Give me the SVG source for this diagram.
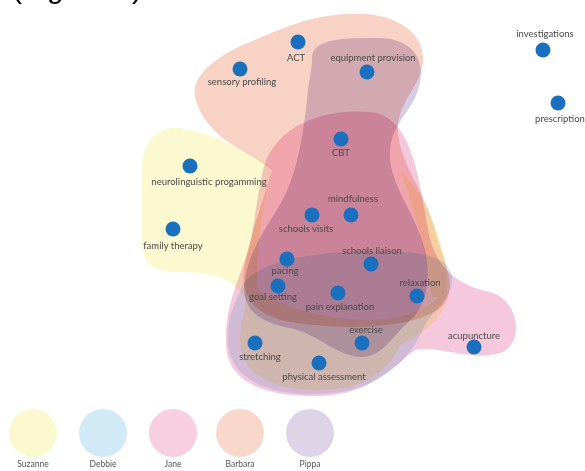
<svg xmlns="http://www.w3.org/2000/svg" width="585" height="471" viewBox="0 0 585 471">
<style>
.blob{mix-blend-mode:multiply}
.dot{fill:#1a6fbe}
.lbl{font-family:Lato,"Open Sans","Liberation Sans",sans-serif;font-size:9.5px;fill:#4a4a4a;text-anchor:middle}
.leg{font-family:Lato,"Open Sans","Liberation Sans",sans-serif;font-size:8.5px;fill:#555;text-anchor:middle}
.sz{fill:#fcf9d0}.db{fill:#d2eaf6}.jn{fill:#f8cee1}.bb{fill:#f9d8cc}.pp{fill:#ded4e8}
#blob-jane{fill:#f6c8dd}#blob-pippa{fill:#d8cbe5}#blob-barbara{fill:#f8d3c5}
</style>
<rect width="585" height="471" fill="#fff"/>
<text x="12" y="-2" font-family="Liberation Sans, Arial, sans-serif" font-size="30" fill="#000">(Figure 3)</text>
<g id="blobs">
<path id="blob-suzanne" class="blob sz" d="M142,175 C140,140 160,125 180,128 C210,132 245,150 272,168 C262,210 255,250 258,290 C290,312 330,318 360,320 C400,322 430,310 447,288 C448,320 420,335 400,345 C385,380 350,392 310,390 C265,388 238,370 240,335 C242,315 248,305 245,298 C235,280 215,272 180,272 C150,272 142,262 142,240 Z"/>
<path id="blob-suzanne-edge" class="blob sz" d="M400,170 C430,200 448,250 447,288 C440,300 432,300 430,290 C425,250 415,210 400,170 Z"/>
<path id="blob-debbie" class="blob db" opacity="0.85" d="M240,292 C246,265 300,252 370,251 C420,250 455,256 452,282 C450,300 432,312 425,325 C410,360 380,392 320,394 C270,396 232,380 228,345 C226,320 234,305 240,292 Z"/>
<path id="blob-jane" class="blob jn" d="M262,175 C270,128 320,108 370,112 C410,116 418,170 428,230 C434,265 455,285 490,292 C520,300 525,345 500,353 C470,362 440,345 415,350 C395,365 370,395 320,396 C270,397 228,385 226,345 C224,300 245,270 252,235 C256,210 258,195 262,175 Z"/>
<path id="blob-barbara" class="blob bb" d="M196,100 C188,78 215,55 255,40 C290,25 320,12 365,14 C400,16 425,35 423,62 C421,85 400,100 398,125 C396,160 425,190 435,230 C445,265 460,290 440,308 C410,330 340,330 290,322 C255,316 238,295 245,265 C250,235 262,205 272,170 C260,160 240,150 225,140 C210,128 200,115 196,100 Z"/>
<path id="blob-pippa" class="blob pp" d="M312,60 C310,38 345,38 378,38 C408,38 425,55 420,82 C416,108 392,122 390,150 C388,185 415,210 425,250 C432,285 425,310 405,325 C390,340 380,358 360,357 C335,355 320,335 290,328 C260,322 240,310 245,280 C250,245 270,225 285,195 C300,165 305,120 308,90 C310,75 312,68 312,60 Z"/>
</g>
<g id="connectors"></g>
<g id="n-act"><circle class="dot" cx="298" cy="42" r="7.5"/><text class="lbl" x="296" y="61">ACT</text></g>
<g id="n-sensory"><circle class="dot" cx="240" cy="69" r="7.5"/><text class="lbl" x="242" y="85">sensory profiling</text></g>
<g id="n-equipment"><circle class="dot" cx="367" cy="72" r="7.5"/><text class="lbl" x="373" y="61">equipment provision</text></g>
<g id="n-investigations"><circle class="dot" cx="543" cy="50" r="7.5"/><text class="lbl" x="545" y="37">investigations</text></g>
<g id="n-prescription"><circle class="dot" cx="558" cy="103" r="7.5"/><text class="lbl" x="560" y="122">prescription</text></g>
<g id="n-cbt"><circle class="dot" cx="341" cy="139" r="7.5"/><text class="lbl" x="341" y="156">CBT</text></g>
<g id="n-nlp"><circle class="dot" cx="190" cy="166" r="7.5"/><text class="lbl" x="209" y="185">neurolinguistic progamming</text></g>
<g id="n-mindfulness"><circle class="dot" cx="351" cy="215" r="7.5"/><text class="lbl" x="353" y="202">mindfulness</text></g>
<g id="n-schoolsvisits"><circle class="dot" cx="312" cy="215" r="7.5"/><text class="lbl" x="306" y="232">schools visits</text></g>
<g id="n-family"><circle class="dot" cx="173" cy="229" r="7.5"/><text class="lbl" x="173" y="249">family therapy</text></g>
<g id="n-pacing"><circle class="dot" cx="287" cy="259" r="7.5"/><text class="lbl" x="285" y="274">pacing</text></g>
<g id="n-liaison"><circle class="dot" cx="371" cy="264" r="7.5"/><text class="lbl" x="372" y="254">schools liaison</text></g>
<g id="n-goal"><circle class="dot" cx="278" cy="286" r="7.5"/><text class="lbl" x="273" y="300">goal setting</text></g>
<g id="n-pain"><circle class="dot" cx="338" cy="293" r="7.5"/><text class="lbl" x="340" y="310">pain explanation</text></g>
<g id="n-relaxation"><circle class="dot" cx="417" cy="296" r="7.5"/><text class="lbl" x="420" y="286">relaxation</text></g>
<g id="n-exercise"><circle class="dot" cx="362" cy="343" r="7.5"/><text class="lbl" x="366" y="333">exercise</text></g>
<g id="n-acupuncture"><circle class="dot" cx="474" cy="347" r="7.5"/><text class="lbl" x="474" y="339">acupuncture</text></g>
<g id="n-stretching"><circle class="dot" cx="255" cy="343" r="7.5"/><text class="lbl" x="260" y="360">stretching</text></g>
<g id="n-physical"><circle class="dot" cx="319" cy="363" r="7.5"/><text class="lbl" x="324" y="380">physical assessment</text></g>
<g id="legend">
<g id="leg-suzanne"><circle class="sz" cx="33" cy="433" r="24"/><text class="leg" x="33" y="467">Suzanne</text></g>
<g id="leg-debbie"><circle class="db" cx="103" cy="433" r="24"/><text class="leg" x="103" y="467">Debbie</text></g>
<g id="leg-jane"><circle class="jn" cx="173" cy="433" r="24"/><text class="leg" x="173" y="467">Jane</text></g>
<g id="leg-barbara"><circle class="bb" cx="240" cy="433" r="24"/><text class="leg" x="240" y="467">Barbara</text></g>
<g id="leg-pippa"><circle class="pp" cx="310" cy="433" r="24"/><text class="leg" x="310" y="467">Pippa</text></g>
</g>
</svg>
